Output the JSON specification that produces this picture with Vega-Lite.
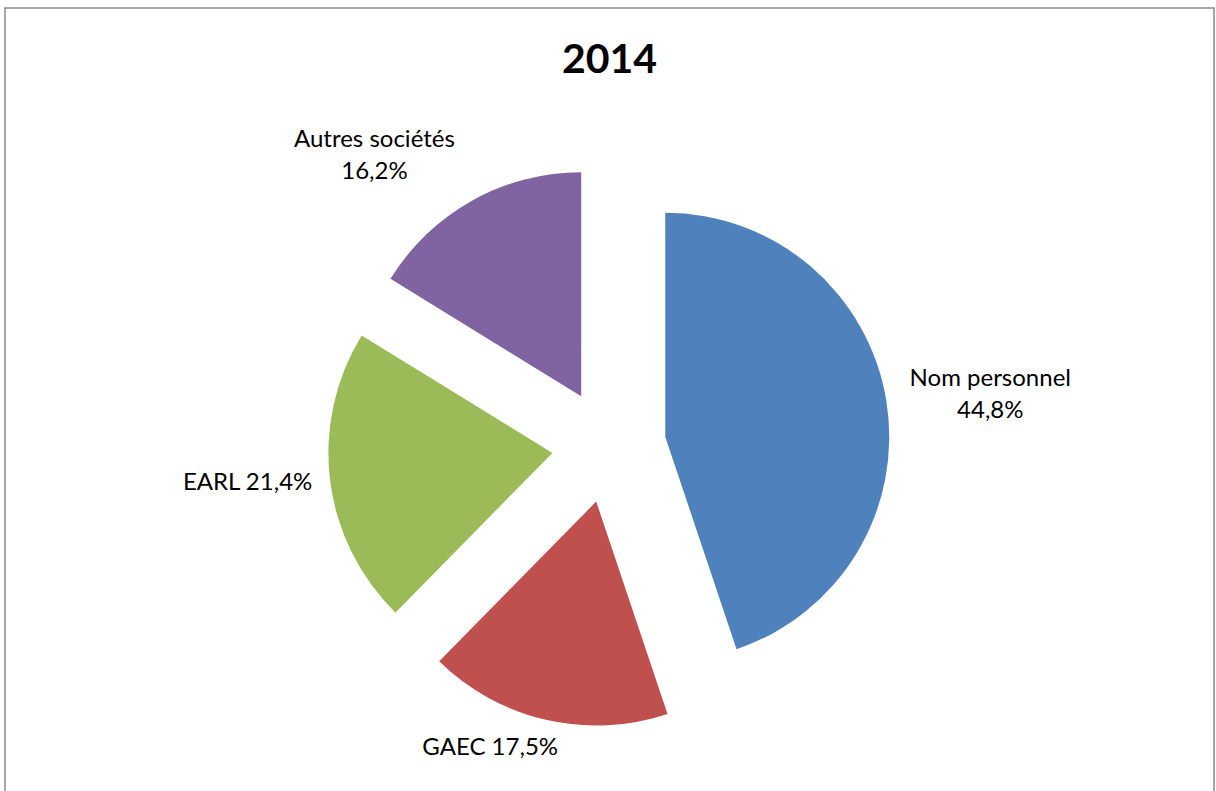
{
  "$schema": "https://vega.github.io/schema/vega-lite/v6.json",
  "width": 1209,
  "height": 785,
  "autosize": "none",
  "padding": {"top": 8, "left": 5, "right": 2, "bottom": 0},
  "background": "white",
  "title": {
    "text": "2014",
    "anchor": "middle",
    "frame": "group",
    "font": "Lato",
    "fontSize": 41,
    "fontWeight": "bold",
    "color": "#000000",
    "baseline": "alphabetic",
    "offset": 0,
    "dy": 106
  },
  "config": {
    "view": {"stroke": "#8a8a8a", "strokeWidth": 1.5},
    "text": {"font": "Lato", "fontSize": 24, "color": "#000000", "lineBreak": "\n", "lineHeight": 32, "align": "center", "baseline": "alphabetic"}
  },
  "data": {
    "values": [
      {"category": "Nom personnel", "value": 44.8, "order": 1},
      {"category": "GAEC", "value": 17.5, "order": 2},
      {"category": "EARL", "value": 21.4, "order": 3},
      {"category": "Autres sociétés", "value": 16.2, "order": 4}
    ]
  },
  "transform": [
    {"window": [{"op": "sum", "field": "value", "as": "cum"}], "sort": [{"field": "order"}], "frame": [null, 0]},
    {"joinaggregate": [{"op": "sum", "field": "value", "as": "total"}]},
    {"calculate": "datum.cum / datum.total", "as": "f1"},
    {"calculate": "(datum.cum - datum.value) / datum.total", "as": "f0"},
    {"calculate": "PI * (datum.f0 + datum.f1)", "as": "mid"},
    {"calculate": "57 * sin(datum.mid)", "as": "cx"},
    {"calculate": "57 * cos(datum.mid)", "as": "cy"},
    {"calculate": "360 * sin(datum.mid)", "as": "lx"},
    {"calculate": "360 * cos(datum.mid)", "as": "ly"},
    {"calculate": "replace(format(datum.value, '.1f'), '.', ',') + '%'", "as": "pct"},
    {"calculate": "datum.order == 1 || datum.order == 4 ? datum.category + '\\n' + datum.pct : datum.category + ' ' + datum.pct", "as": "label"}
  ],
  "encoding": {
    "x": {"type": "quantitative", "scale": {"domain": [-604, 605], "nice": false, "zero": false}, "axis": null},
    "y": {"type": "quantitative", "scale": {"domain": [-347, 438], "nice": false, "zero": false}, "axis": null}
  },
  "layer": [
    {
      "mark": {"type": "arc", "radius": 224, "stroke": null},
      "encoding": {
        "x": {"field": "cx", "type": "quantitative"},
        "y": {"field": "cy", "type": "quantitative"},
        "theta": {"field": "f0", "type": "quantitative", "scale": {"domain": [0, 1]}},
        "theta2": {"field": "f1"},
        "color": {
          "field": "category",
          "type": "nominal",
          "scale": {
            "domain": ["Nom personnel", "GAEC", "EARL", "Autres sociétés"],
            "range": ["#4F81BD", "#C0504D", "#9BBB59", "#8064A2"]
          },
          "legend": null
        }
      }
    },
    {
      "transform": [{"filter": "datum.order == 1"}],
      "mark": {"type": "text", "dx": 26, "dy": -1.5},
      "encoding": {
        "x": {"field": "lx", "type": "quantitative"},
        "y": {"field": "ly", "type": "quantitative"},
        "text": {"field": "label"}
      }
    },
    {
      "transform": [{"filter": "datum.order == 2"}],
      "mark": {"type": "text", "dx": -38, "dy": -42},
      "encoding": {
        "x": {"field": "lx", "type": "quantitative"},
        "y": {"field": "ly", "type": "quantitative"},
        "text": {"field": "label"}
      }
    },
    {
      "transform": [{"filter": "datum.order == 3"}],
      "mark": {"type": "text", "dx": -4, "dy": 1},
      "encoding": {
        "x": {"field": "lx", "type": "quantitative"},
        "y": {"field": "ly", "type": "quantitative"},
        "text": {"field": "label"}
      }
    },
    {
      "transform": [{"filter": "datum.order == 4"}],
      "mark": {"type": "text", "dx": -59, "dy": 15},
      "encoding": {
        "x": {"field": "lx", "type": "quantitative"},
        "y": {"field": "ly", "type": "quantitative"},
        "text": {"field": "label"}
      }
    }
  ]
}
